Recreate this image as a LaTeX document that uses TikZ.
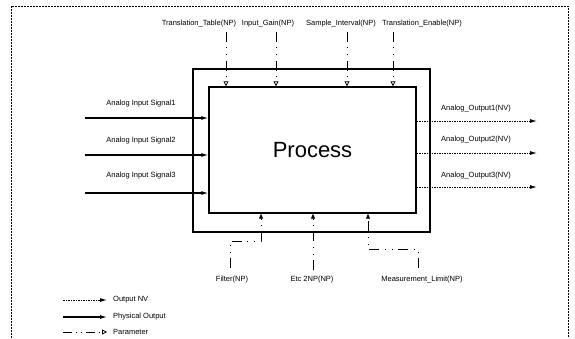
\documentclass[tikz,border=0pt]{standalone}
\usepackage{fontspec}
\setmainfont{Liberation Sans}
\usetikzlibrary{positioning,arrows.meta}

\begin{document}
\begin{tikzpicture}[
    x=1pt,y=-1pt,
    >=latex,
    box/.style={rectangle,draw,line width=1.4pt,inner sep=0pt},
    lbl/.style={font=\fontsize{7.5}{9}\selectfont,inner sep=1pt},
    phys/.style={-{Latex[length=7pt,width=4pt]},line width=1.1pt},
    nv/.style={-{Latex[length=7pt,width=4pt]},line width=0.9pt,dash pattern=on 1.5pt off 1pt},
    param/.style={-{Triangle[open,length=5pt,width=5pt]},line width=0.8pt,dash pattern=on 10pt off 5pt on 1pt off 6pt on 1pt off 6pt},
    frame/.style={draw,thin,dash pattern=on 2pt off 1pt}
]

% 枠
\useasboundingbox (0,0) rectangle (575,338);
\draw[frame] (11,338) -- (11,6) -- (568,6) -- (568,338);

% ブロック
\node[box,minimum width=237pt,minimum height=163pt] (outer) at (311.5,150.5) {};
\node[box,minimum width=207pt,minimum height=126pt,fill=white,font=\fontsize{22}{26}\selectfont] (proc) at (312.5,150) {Process};

% 入力
\node[lbl] (in1) at (141,104) {Analog Input Signal1};
\node[lbl] (in2) at (141,141) {Analog Input Signal2};
\node[lbl] (in3) at (141,176) {Analog Input Signal3};
\coordinate (s1) at (85,118);
\coordinate (s2) at (85,155);
\coordinate (s3) at (85,193);
\draw[phys] (s1) -- (s1 -| proc.west);
\draw[phys] (s2) -- (s2 -| proc.west);
\draw[phys] (s3) -- (s3 -| proc.west);

% 出力
\node[lbl,anchor=west] (out1) at (440,109) {Analog\_Output1(NV)};
\node[lbl,anchor=west] (out2) at (440,140) {Analog\_Output2(NV)};
\node[lbl,anchor=west] (out3) at (440,176) {Analog\_Output3(NV)};
\coordinate (o1) at (537,121);
\coordinate (o2) at (537,153);
\coordinate (o3) at (537,187);
\draw[nv] (proc.east |- o1) -- (o1);
\draw[nv] (proc.east |- o2) -- (o2);
\draw[nv] (proc.east |- o3) -- (o3);

% パラメータ（上）
\node[lbl] (ttab) at (199,24) {Translation\_Table(NP)};
\node[lbl] (igain) at (268,24) {Input\_Gain(NP)};
\node[lbl] (sint) at (341,24) {Sample\_Interval(NP)};
\node[lbl] (tena) at (422,24) {Translation\_Enable(NP)};
\coordinate (p1) at (226,32);
\coordinate (p2) at (276,32);
\coordinate (p3) at (347,32);
\coordinate (p4) at (393,32);
\draw[param] (p1) -- (p1 |- proc.north);
\draw[param] (p2) -- (p2 |- proc.north);
\draw[param] (p3) -- (p3 |- proc.north);
\draw[param] (p4) -- (p4 |- proc.north);

% パラメータ（下）
\node[lbl] (filt) at (232,280) {Filter(NP)};
\node[lbl] (etc) at (312,280) {Etc 2NP(NP)};
\node[lbl] (mlim) at (422,280) {Measurement\_Limit(NP)};
\coordinate (fa) at (230,268);
\coordinate (fb) at (261,241);
\coordinate (ea) at (313,270);
\coordinate (ma) at (418,268);
\coordinate (mb) at (368,249);
\draw[param,-{Triangle[length=5pt,width=4pt]}] (fa) |- (fb) -- (fb |- proc.south);
\draw[param,-{Triangle[length=5pt,width=4pt]}] (ea) -- (ea |- proc.south);
\draw[param,-{Triangle[length=5pt,width=4pt]}] (ma) |- (mb) -- (mb |- proc.south);

% 凡例
\node[lbl,anchor=west] (lgnv) at (112,300) {Output NV};
\node[lbl,anchor=west] (lgph) at (112,317) {Physical Output};
\node[lbl,anchor=west] (lgpa) at (112,332) {Parameter};
\coordinate (l1) at (63,300);
\coordinate (l2) at (63,317);
\coordinate (l3) at (63,332);
\draw[nv] (l1) -- ([xshift=-5pt]lgnv.west);
\draw[phys] (l2) -- ([xshift=-5pt]lgph.west);
\draw[param,dash pattern=on 9pt off 4pt on 1pt off 4pt on 1pt off 4pt] (l3) -- ([xshift=-5pt]lgpa.west);

\end{tikzpicture}
\end{document}
